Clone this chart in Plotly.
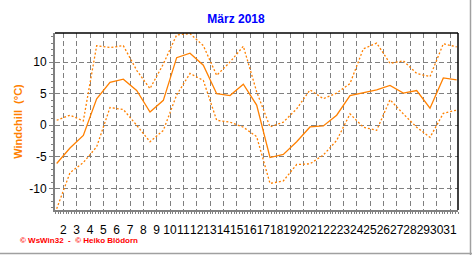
import plotly.graph_objects as go

days = list(range(1, 32))
wc_mean = [-6.05, -3.6, -1.6, 4.2, 6.8, 7.3, 5.5, 2.1, 3.95, 10.7, 11.4, 9.5, 5.0, 4.7, 6.5, 3.2,
           -5.1, -4.6, -2.6, -0.26, -0.1, 1.6, 4.7, 5.1, 5.6, 6.3, 5.1, 5.5, 2.7, 7.5, 7.2]
wc_max = [0.8, 1.6, 0.7, 12.6, 12.3, 12.6, 8.7, 5.8, 9.7, 14.3, 14.5, 12.6, 7.9, 10.0, 12.5, 5.3,
          -0.26, 0.5, 2.6, 5.6, 4.2, 5.1, 6.6, 12.1, 13.0, 9.8, 10.2, 8.2, 7.7, 12.9, 12.4]
wc_min = [-13.2, -7.5, -5.9, -3.4, 2.8, 2.5, 0.0, -2.6, -0.8, 4.8, 8.2, 7.1, 0.8, 0.5, -0.3, -1.8,
          -9.2, -8.8, -6.2, -6.1, -4.7, -2.4, 1.8, -0.3, -0.8, 4.05, 1.8, -0.3, -1.9, 1.9, 2.4]
tick_days = list(range(2, 32))
y_ticks = [-10, -5, 0, 5, 10]

ORANGE = "#ff8000"
GRAY = "#808080"
FONT = "Liberation Sans"

fig = go.Figure()
fig.add_trace(go.Scatter(x=days, y=wc_max, mode="lines",
                         line=dict(color=ORANGE, width=1.3, dash="2px,2px"), hoverinfo="skip"))
fig.add_trace(go.Scatter(x=days, y=wc_min, mode="lines",
                         line=dict(color=ORANGE, width=1.3, dash="2px,2px"), hoverinfo="skip"))
fig.add_trace(go.Scatter(x=days, y=wc_mean, mode="lines",
                         line=dict(color=ORANGE, width=1.3), hoverinfo="skip"))

fig.update_layout(
    width=472, height=255,
    margin=dict(l=55, r=14, t=33, b=45),
    paper_bgcolor="white", plot_bgcolor="white",
    showlegend=False,
    font=dict(family=FONT, size=12, color="black"),
    title=dict(text="<b>März 2018</b>", x=0.5, xref="container", xanchor="center",
               y=1 - 19 / 255, yref="container", yanchor="middle",
               font=dict(family=FONT, size=12, color="#0000ff")),
    xaxis=dict(range=[0.875, 31.1], tickmode="array",
               tickvals=[d - 0.5 for d in tick_days], ticktext=[str(d) for d in tick_days],
               tickangle=0, ticklabelstandoff=6,
               showgrid=True, gridcolor=GRAY, gridwidth=1, griddash="5px,3px",
               zeroline=False, showline=True, linecolor=GRAY, linewidth=2,
               ticks="outside", ticklen=2, tickcolor=GRAY, tickwidth=1,
               tickfont=dict(family=FONT, size=12, color="black"),
               minor=dict(tick0=0.5, dtick=0.2, ticks="outside", ticklen=2,
                          tickcolor=GRAY, showgrid=False)),
    yaxis=dict(range=[-13.4, 14.6], tickmode="array", tickvals=y_ticks,
               ticktext=[str(v) for v in y_ticks],
               showgrid=True, gridcolor=GRAY, gridwidth=1, griddash="5px,3px",
               zeroline=False, showline=True, linecolor=GRAY, linewidth=2,
               ticks="outside", ticklen=4, tickcolor=GRAY, tickwidth=1,
               tickfont=dict(family=FONT, size=12, color="black"),
               minor=dict(dtick=1, ticks="outside", ticklen=2, tickcolor=GRAY, showgrid=False),
               title=dict(text="<b>Windchill  (°C)</b>", standoff=4,
                          font=dict(family=FONT, size=11, color=ORANGE))),
    shapes=[
        dict(type="line", xref="paper", yref="paper", x0=0, x1=1, y0=1, y1=1,
             line=dict(color="black", width=1.5)),
        dict(type="line", xref="paper", yref="paper", x0=1, x1=1, y0=0, y1=1,
             line=dict(color="black", width=1.5)),
        dict(type="line", xref="paper", yref="paper", x0=(470.5 - 55) / 403, x1=(470.5 - 55) / 403,
             y0=-45 / 177, y1=(33 + 177) / 177, line=dict(color="#a0a0a0", width=1.5)),
        dict(type="line", xref="paper", yref="paper", x0=-55 / 403, x1=(472 - 55) / 403,
             y0=(210 - 253.5) / 177, y1=(210 - 253.5) / 177, line=dict(color="#a0a0a0", width=1.5)),
    ],
    annotations=[
        dict(text="<b>© WsWin32  -  © Heiko Blödorn</b>", xref="paper", yref="paper",
             x=(18 - 55) / 403, y=(210 - 240.5) / 177, xanchor="left", yanchor="middle",
             showarrow=False, font=dict(family=FONT, size=8, color="#ff0000")),
    ],
)

fig.write_html("out.html")
